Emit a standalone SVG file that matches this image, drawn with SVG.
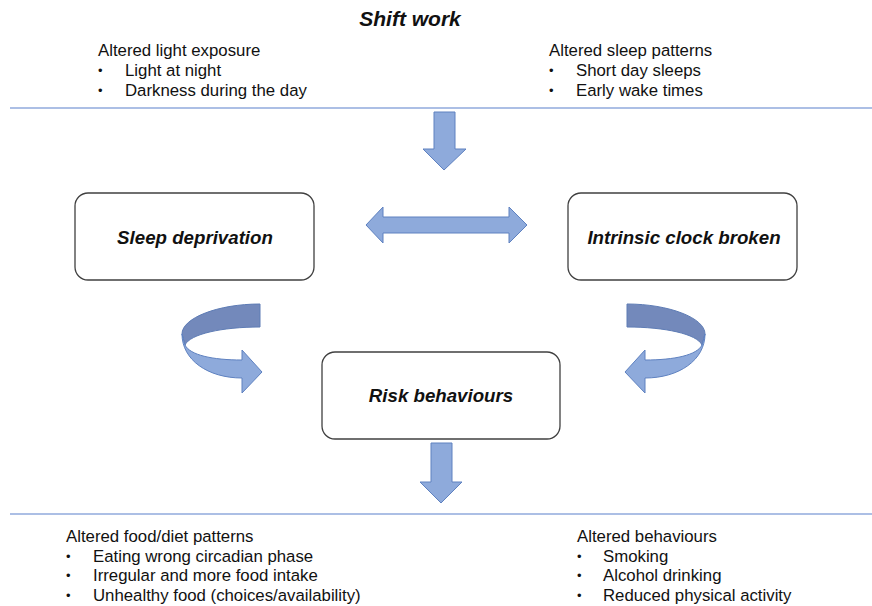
<svg xmlns="http://www.w3.org/2000/svg" width="872" height="606" viewBox="0 0 872 606">
<style>
text{font-family:"Liberation Sans","Noto Sans",Arial,sans-serif;fill:#111}
.t{font-size:16.8px}
.b{font-size:13px}
.h{font-size:18.7px;font-weight:bold;font-style:italic;text-anchor:middle}
.box{fill:#fff;stroke:#404040;stroke-width:1.3}
.rule{stroke:#5b80cc;stroke-width:1.2}
.ar{fill:#8eaadb;stroke:#5e81c0;stroke-width:1}
.dk{fill:#7389bb;stroke:#5e7cb5;stroke-width:1}
</style>
<defs>
<g id="uturn">
<path class="dk" d="M260,304 C218,304 182,318 182,334 L185,345 C190,334 222,327 260,327 Z"/>
<path class="ar" d="M182,334 C182,360 208,378 242,378 L242,393 L262,372 L242,350 L242,360 C212,360 190,355 185,345 Z"/>
</g>
</defs>
<rect width="872" height="606" fill="#fff"/>
<g id="title"><text x="410" y="26" style="font-size:21px;font-weight:bold;font-style:italic;text-anchor:middle">Shift work</text></g>
<g id="top-left">
<text class="t" x="98" y="56">Altered light exposure</text>
<text class="b" x="98" y="75">•</text><text class="t" x="125" y="76">Light at night</text>
<text class="b" x="98" y="95">•</text><text class="t" x="125" y="96">Darkness during the day</text>
</g>
<g id="top-right">
<text class="t" x="549" y="56">Altered sleep patterns</text>
<text class="b" x="549" y="75">•</text><text class="t" x="576" y="76">Short day sleeps</text>
<text class="b" x="549" y="95">•</text><text class="t" x="576" y="96">Early wake times</text>
</g>
<g id="rules">
<line class="rule" x1="10" y1="108" x2="872" y2="108"/>
<line class="rule" x1="10" y1="514" x2="872" y2="514"/>
</g>
<g id="sleep-deprivation">
<rect class="box" x="75" y="193" width="239" height="87" rx="13"/>
<text class="h" x="195" y="244">Sleep deprivation</text>
</g>
<g id="intrinsic-clock">
<rect class="box" x="568" y="193" width="229" height="87" rx="13"/>
<text class="h" x="684" y="244">Intrinsic clock broken</text>
</g>
<g id="risk-behaviours">
<rect class="box" x="322" y="352" width="238" height="87" rx="13"/>
<text class="h" x="441" y="402">Risk behaviours</text>
</g>
<g id="connectors">
<path class="ar" d="M434,112 L455,112 L455,149 L466,149 L444,170 L423,149 L434,149 Z"/>
<path class="ar" d="M366,225 L383,207 L383,217 L509,217 L509,207 L527,225 L509,243 L509,233 L383,233 L383,243 Z"/>
<use href="#uturn"/>
<use href="#uturn" transform="translate(887,0) scale(-1,1)"/>
<path class="ar" d="M431,443 L452,443 L452,482 L462,482 L441,503 L420,482 L431,482 Z"/>
</g>
<g id="bottom-left">
<text class="t" x="66" y="542">Altered food/diet patterns</text>
<text class="b" x="66" y="560.5">•</text><text class="t" x="93" y="561.5">Eating wrong circadian phase</text>
<text class="b" x="66" y="580">•</text><text class="t" x="93" y="581">Irregular and more food intake</text>
<text class="b" x="66" y="599.5">•</text><text class="t" x="93" y="600.5">Unhealthy food (choices/availability)</text>
</g>
<g id="bottom-right">
<text class="t" x="577" y="542">Altered behaviours</text>
<text class="b" x="577" y="560.5">•</text><text class="t" x="603" y="561.5">Smoking</text>
<text class="b" x="577" y="580">•</text><text class="t" x="603" y="581">Alcohol drinking</text>
<text class="b" x="577" y="599.5">•</text><text class="t" x="603" y="600.5">Reduced physical activity</text>
</g>
</svg>
